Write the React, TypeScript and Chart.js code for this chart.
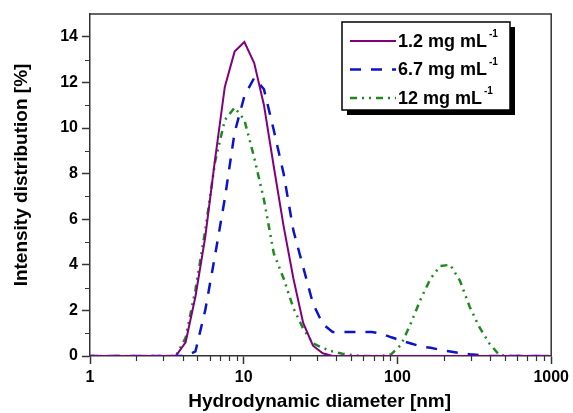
import React, { useEffect, useRef } from "react";
import { Chart, registerables } from "chart.js";

Chart.register(...registerables);

// Hydrodynamic diameter bins [nm]
const diameters = [
  0.9649, 1.117, 1.294, 1.499, 1.736, 2.01, 2.328, 2.696, 3.122, 3.615,
  4.187, 4.849, 5.615, 6.503, 7.531, 8.721, 10.1, 11.7, 13.54, 15.69,
  18.17, 21.04, 24.36, 28.21, 32.67, 37.84, 43.82, 50.75, 58.77, 68.06,
  78.82, 91.28, 105.7, 122.4, 141.8, 164.2, 190.1, 220.2, 255.0, 295.3,
  342.0, 396.1, 458.7, 531.2, 615.1, 712.4, 825.0, 955.4, 1106,
];

// Intensity distribution [%]
const series12 = [
  0, 0, 0, 0, 0, 0, 0, 0, 0, 0,
  0.6, 2.6, 5.2, 8.6, 11.8, 13.35, 13.77, 12.85, 11.0, 8.3,
  5.7, 3.4, 1.45, 0.45, 0.12, 0, 0, 0, 0, 0,
  0, 0, 0, 0, 0, 0, 0, 0, 0, 0,
  0, 0, 0, 0, 0, 0, 0, 0, 0,
];
const series67 = [
  0, 0, 0, 0, 0, 0, 0, 0, 0, 0,
  0, 0.2, 2.0, 4.4, 6.9, 9.8, 11.4, 12.2, 11.7, 9.9,
  8.0, 5.5, 3.9, 2.3, 1.4, 1.05, 1.05, 1.05, 1.05, 1.05,
  0.98, 0.82, 0.68, 0.55, 0.42, 0.36, 0.27, 0.2, 0.13, 0.08,
  0.04, 0, 0, 0, 0, 0, 0, 0, 0,
];
const series120 = [
  0, 0, 0, 0, 0, 0, 0, 0, 0, 0,
  0.8, 2.9, 5.5, 8.5, 10.35, 10.9, 10.35, 8.7, 6.85, 4.5,
  3.4, 2.1, 1.2, 0.55, 0.35, 0.2, 0.1, 0.04, 0, 0,
  0, 0.08, 0.5, 1.45, 2.5, 3.4, 3.95, 4.0, 3.3, 2.15,
  1.25, 0.55, 0.05, 0, 0, 0, 0, 0, 0,
];

const concentrations = ["1.2", "6.7", "12"];
const unitText = "mg mL";
const unitSup = "-1";
const xTickValues = [1, 10, 100, 1000];
const yTickValues = [0, 2, 4, 6, 8, 10, 12, 14];
const xTitle = "Hydrodynamic diameter [nm]";
const yTitle = "Intensity distribution [%]";

const FONT = '"Liberation Sans", Arial, sans-serif';
const AXIS_COLOR = "#333333";

const toPoints = (vals: number[]) => diameters.map((d, i) => ({ x: d, y: vals[i] }));

const decorPlugin = {
  id: "decor",
  afterDraw(chart: any) {
    const { ctx, chartArea } = chart;
    const xs = chart.scales.x;
    const ys = chart.scales.y;
    ctx.save();
    // frame top/right
    ctx.strokeStyle = AXIS_COLOR;
    ctx.lineWidth = 1.5;
    ctx.setLineDash([]);
    ctx.beginPath();
    ctx.moveTo(chartArea.left, chartArea.top);
    ctx.lineTo(chartArea.right, chartArea.top);
    ctx.lineTo(chartArea.right, chartArea.bottom);
    ctx.stroke();
    // minor ticks
    ctx.lineWidth = 1.2;
    ctx.beginPath();
    for (let dec = 1; dec < 1000; dec *= 10) {
      for (let m = 2; m <= 9; m++) {
        const px = Math.round(xs.getPixelForValue(dec * m)) + 0.5;
        ctx.moveTo(px, chartArea.bottom);
        ctx.lineTo(px, chartArea.bottom + 5);
      }
    }
    for (let v = 1; v < 15; v += 2) {
      const py = Math.round(ys.getPixelForValue(v)) + 0.5;
      ctx.moveTo(chartArea.left - 5, py);
      ctx.lineTo(chartArea.left, py);
    }
    ctx.stroke();

    // axis titles
    ctx.fillStyle = "#000";
    ctx.font = `bold 19px ${FONT}`;
    ctx.textAlign = "center";
    ctx.textBaseline = "middle";
    ctx.fillText(xTitle, (chartArea.left + chartArea.right) / 2 - 1, 402);
    ctx.save();
    ctx.translate(22, (chartArea.top + chartArea.bottom) / 2 - 10);
    ctx.rotate(-Math.PI / 2);
    ctx.fillText(yTitle, 0, 0);
    ctx.restore();

    // legend
    const lx = chartArea.left + 252;
    const ly = chartArea.top + 8;
    const lw = 168;
    const lh = 88;
    ctx.fillStyle = "#000";
    ctx.fillRect(lx + 5, ly + 5, lw, lh);
    ctx.fillStyle = "#fff";
    ctx.fillRect(lx, ly, lw, lh);
    ctx.strokeStyle = "#000";
    ctx.lineWidth = 1.5;
    ctx.strokeRect(lx, ly, lw, lh);
    chart.data.datasets.forEach((ds: any, i: number) => {
      const ry = ly + 19 + i * 28.5;
      ctx.strokeStyle = ds.borderColor;
      ctx.lineWidth = ds.borderWidth;
      ctx.setLineDash(ds.borderDash || []);
      ctx.beginPath();
      ctx.moveTo(lx + 8, ry);
      ctx.lineTo(lx + 54, ry);
      ctx.stroke();
      ctx.setLineDash([]);
      ctx.fillStyle = "#000";
      ctx.font = `bold 18px ${FONT}`;
      ctx.textAlign = "left";
      ctx.textBaseline = "middle";
      const txt = `${concentrations[i]} ${unitText}`;
      const tx = lx + 56;
      ctx.fillText(txt, tx, ry + 1);
      const w = ctx.measureText(txt).width;
      ctx.font = `bold 10px ${FONT}`;
      ctx.fillText(unitSup, tx + w + 2, ry - 7);
    });
    ctx.restore();
  },
};

export default function App() {
  const ref = useRef<HTMLCanvasElement>(null);
  useEffect(() => {
    document.body.style.margin = "0";
    const canvas = ref.current;
    if (!canvas) return;
    const chart = new Chart(canvas, {
      type: "line",
      data: {
        datasets: [
          {
            label: `${concentrations[0]} ${unitText}`,
            data: toPoints(series12),
            borderColor: "#800080",
            borderWidth: 2,
            pointRadius: 0,
            tension: 0,
            fill: false,
          },
          {
            label: `${concentrations[1]} ${unitText}`,
            data: toPoints(series67),
            borderColor: "#0a14cc",
            borderWidth: 2.5,
            borderDash: [11, 10],
            pointRadius: 0,
            tension: 0,
            fill: false,
          },
          {
            label: `${concentrations[2]} ${unitText}`,
            data: toPoints(series120),
            borderColor: "#1e8a1e",
            borderWidth: 2.5,
            borderDash: [7, 5, 2, 5, 2, 5],
            pointRadius: 0,
            tension: 0,
            fill: false,
          },
        ],
      },
      options: {
        responsive: false,
        animation: false,
        devicePixelRatio: 1,
        layout: { padding: { top: 14, right: 21, left: 0, bottom: 0 } },
        plugins: { legend: { display: false }, tooltip: { enabled: false } },
        scales: {
          x: {
            type: "logarithmic",
            min: 1,
            max: 1000,
            afterBuildTicks: (scale: any) => {
              scale.ticks = xTickValues.map((v) => ({ value: v, major: true }));
            },
            afterFit: (scale: any) => {
              scale.height = 57;
            },
            grid: {
              display: true,
              drawOnChartArea: false,
              drawTicks: true,
              tickLength: 8,
              tickWidth: 1.5,
              tickColor: AXIS_COLOR,
            },
            border: { display: true, color: AXIS_COLOR, width: 1.5 },
            ticks: {
              autoSkip: false,
              maxRotation: 0,
              padding: 4,
              color: "#000",
              font: { family: FONT, size: 16, weight: "bold" },
              callback: (v: any) => String(v),
            },
          },
          y: {
            type: "linear",
            min: 0,
            max: 15,
            afterBuildTicks: (scale: any) => {
              scale.ticks = yTickValues.map((v) => ({ value: v }));
            },
            afterFit: (scale: any) => {
              scale.width = 90;
            },
            grid: {
              display: true,
              drawOnChartArea: false,
              drawTicks: true,
              tickLength: 8,
              tickWidth: 1.5,
              tickColor: AXIS_COLOR,
            },
            border: { display: true, color: AXIS_COLOR, width: 1.5 },
            ticks: {
              autoSkip: false,
              padding: 4,
              color: "#000",
              font: { family: FONT, size: 16, weight: "bold" },
              callback: (v: any) => String(v),
            },
          },
        },
      },
      plugins: [decorPlugin],
    } as any);
    return () => chart.destroy();
  }, []);
  return (
    <div style={{ width: 573, height: 413 }}>
      <canvas ref={ref} width={573} height={413} />
    </div>
  );
}
